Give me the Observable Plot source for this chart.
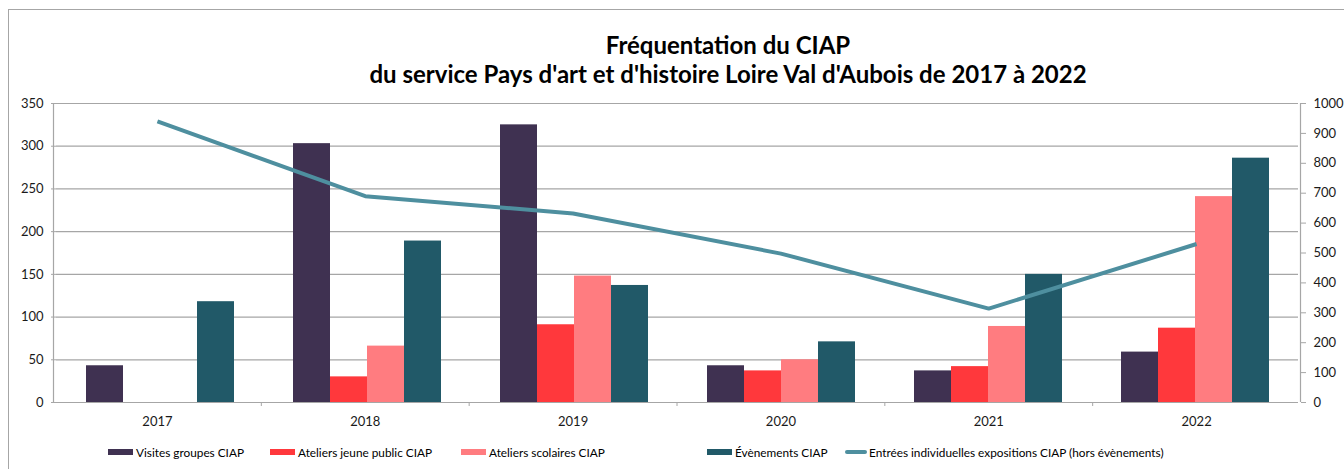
<!DOCTYPE html>
<html>
<head>
<meta charset="utf-8">
<script src="https://cdn.jsdelivr.net/npm/d3@7"></script>
<script src="https://cdn.jsdelivr.net/npm/@observablehq/plot@0.6"></script>
<style>
  body { margin: 0; background: #fff; }
  #wrap { position: relative; width: 1344px; height: 469px; overflow: hidden; font-family: Lato, "Open Sans", sans-serif; background: #fff; }
  #border { position: absolute; left: 8px; top: 9px; width: 1400px; height: 600px; border: 1px solid #a6a6a6; box-sizing: border-box; }
  .layer { position: absolute; left: 0; top: 0; }
  #title { position: absolute; left: 0; top: 30px; width: 1344px; text-align: center; font-weight: bold; font-size: 24px; line-height: 29px; color: #000; padding-left: 112px; box-sizing: border-box; }
  .item { position: absolute; top: 443px; height: 18px; display: flex; align-items: center; font-size: 11.8px; color: #000; white-space: nowrap; }
  .sw { width: 25px; height: 6px; margin-right: 3px; }
  .swl { width: 22px; height: 4px; margin-right: 2px; border-radius: 2px; }
</style>
</head>
<body>
<div id="wrap">
  <div id="border"></div>
  <div id="bars" class="layer"></div>
  <div id="line" class="layer"></div>
  <div id="title"></div>
  <div id="legend"></div>
</div>
<script>
// ---- data ----
const years = ["2017", "2018", "2019", "2020", "2021", "2022"];
const series = ["Visites groupes CIAP", "Ateliers jeune public CIAP", "Ateliers scolaires CIAP", "Évènements CIAP"];
const visitesGroupes   = [43, 303, 325, 43, 37, 59];
const ateliersJeune    = [null, 30, 91, 37, 42, 87];
const ateliersScolaires= [null, 66, 148, 50, 89, 241];
const evenements       = [118, 189, 137, 71, 150, 286];
const lineName = "Entrées individuelles expositions CIAP (hors évènements)";
const entrees  = [940, 690, 632, 498, 314, 530];
const leftTicks  = [0, 50, 100, 150, 200, 250, 300, 350];
const rightTicks = [0, 100, 200, 300, 400, 500, 600, 700, 800, 900, 1000];
const titleLines = ["Fréquentation du CIAP", "du service Pays d'art et d'histoire Loire Val d'Aubois de 2017 à 2022"];
const colors = ["#3F3151", "#FF383C", "#FF7C80", "#215968"];
const lineColor = "#4E8F9F";

// ---- tables ----
const seriesValues = [visitesGroupes, ateliersJeune, ateliersScolaires, evenements];
const barTable = years.flatMap((y, i) => series.map((s, j) => ({year: y, series: s, value: seriesValues[j][i]})))
  .filter(d => d.value != null);
const lineTable = years.map((y, i) => ({idx: i, year: y, value: entrees[i]}));

const W = 1344, H = 469;
const M = {top: 103, bottom: 67, left: 53, right: 44};
const grid = "#a6a6a6";
const font = {background: "transparent", fontFamily: "Lato, 'Open Sans', sans-serif", fontSize: "13px", color: "#000", overflow: "visible"};

const barsPlot = Plot.plot({
  width: W, height: H,
  marginTop: M.top, marginBottom: M.bottom, marginLeft: M.left, marginRight: M.right,
  style: font,
  fx: {domain: years, padding: 0, axis: null, label: null},
  x: {domain: series, paddingInner: 0, paddingOuter: 0.76, axis: null},
  y: {domain: [0, 350], label: null, axis: null},
  color: {domain: series, range: colors},
  marks: [
    Plot.ruleY(leftTicks, {stroke: grid, strokeWidth: 1.2}),
    Plot.axisY(leftTicks, {anchor: "left", tickSize: 5, tickPadding: 8, stroke: grid, fill: "#1a1a1a", tickFormat: d => String(d), label: null}),
    Plot.barY(barTable, {fx: "year", x: "series", y: "value", fill: "series"})
  ]
});
document.getElementById("bars").appendChild(barsPlot);

const linePlot = Plot.plot({
  width: W, height: H,
  marginTop: M.top, marginBottom: M.bottom, marginLeft: M.left, marginRight: M.right,
  style: font,
  x: {type: "linear", domain: [-0.5, years.length - 0.5], axis: null},
  y: {domain: [0, 1000], axis: null},
  marks: [
    Plot.ruleX([-0.5, years.length - 0.5], {stroke: grid, strokeWidth: 1.2}),
    Plot.axisX(d3.range(0.5, years.length - 1, 1), {tickSize: 4, stroke: grid, tickFormat: () => "", label: null}),
    Plot.axisX(lineTable.map(d => d.idx), {tickSize: 0, tickPadding: 14, tickFormat: i => years[i], fill: "#1a1a1a", label: null}),
    Plot.axisY(rightTicks, {anchor: "right", tickSize: 5, tickPadding: 8, stroke: grid, fill: "#1a1a1a", tickFormat: d => String(d), label: null}),
    Plot.line(lineTable, {x: "idx", y: "value", stroke: lineColor, strokeWidth: 4, strokeLinejoin: "round", strokeLinecap: "butt"})
  ]
});
document.getElementById("line").appendChild(linePlot);

// ---- title ----
document.getElementById("title").innerHTML = titleLines.map(t => `<div>${t}</div>`).join("");

// ---- legend ----
const legendItems = series.map((s, j) => ({label: s, color: colors[j], kind: "bar"}))
  .concat([{label: lineName, color: lineColor, kind: "line"}]);
const legendLeft = [108, 270, 461, 707, 845];
const legend = document.getElementById("legend");
legendItems.forEach((it, k) => {
  const el = document.createElement("div");
  el.className = "item";
  el.style.left = legendLeft[k] + "px";
  const sw = document.createElement("span");
  sw.className = it.kind === "bar" ? "sw" : "swl";
  sw.style.background = it.color;
  const tx = document.createElement("span");
  tx.textContent = it.label;
  el.appendChild(sw); el.appendChild(tx);
  legend.appendChild(el);
});
</script>
</body>
</html>
